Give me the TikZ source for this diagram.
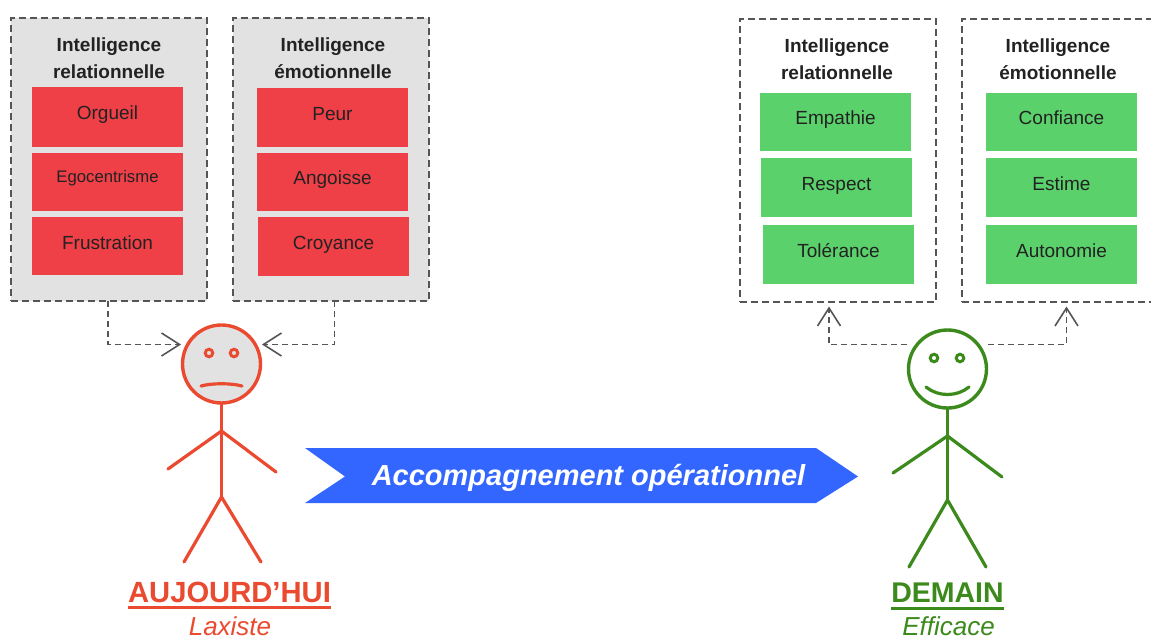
\documentclass[tikz,border=0pt]{standalone}
\usepackage{fontspec}
\setmainfont{Liberation Sans}
\usetikzlibrary{arrows.meta,calc}
\definecolor{panelgray}{HTML}{E2E2E2}
\definecolor{dashgray}{HTML}{555555}
\definecolor{badred}{HTML}{EF3F47}
\definecolor{goodgreen}{HTML}{5BD16C}
\definecolor{sadline}{HTML}{EA4A2F}
\definecolor{happyline}{HTML}{3C8A1C}
\definecolor{bannerblue}{HTML}{3366FF}
\definecolor{inktext}{HTML}{222222}
\tikzset{
  panel/.style={draw=dashgray,dash pattern=on 7pt off 4pt,line width=1.1pt,minimum width=196pt,minimum height=283pt,inner sep=0pt},
  panelbad/.style={panel,fill=panelgray},
  panelgood/.style={panel,fill=white},
  paneltitle/.style={font=\bfseries\fontsize{19}{27}\selectfont,align=center,inner sep=0pt,text=inktext},
  trait/.style={minimum width=151pt,inner sep=0pt,text=inktext,font=\fontsize{19}{22}\selectfont,text height=14pt,text depth=8pt},
  badtrait/.style={trait,fill=badred},
  goodtrait/.style={trait,fill=goodgreen},
  link/.style={draw=dashgray,line width=1.6pt,dash pattern=on 6pt off 4pt,-{Straight Barb[length=18pt,width=23pt,line width=1.6pt]}},
  sadstroke/.style={draw=sadline,line width=3.2pt,line cap=round},
  happystroke/.style={draw=happyline,line width=3.2pt,line cap=round},
  headnode/.style={circle,minimum size=78pt,inner sep=0pt,line width=3.4pt},
  eye/.style={circle,minimum size=7.5pt,inner sep=0pt,line width=3pt},
  stage/.style={font=\bfseries\fontsize{28.5}{32}\selectfont,inner sep=0pt},
  mood/.style={font=\itshape\fontsize{26}{30}\selectfont,inner sep=0pt},
}
\begin{document}
\begin{tikzpicture}[x=1pt,y=-1pt]
\useasboundingbox (0,0) rectangle (1151,639);
\clip (0,0) rectangle (1151,639);
\fill[white] (0,0) rectangle (1151,639);

% left panels
\node[panelbad] (p1) at (109,159.5) {};
\node[panelbad] (p2) at (331,159.5) {};
\node[paneltitle] (t1) at (109,58) {Intelligence\\relationnelle};
\node[paneltitle] (t2) at (333,58) {Intelligence\\émotionnelle};
\node[badtrait,minimum height=60pt] (r1) at (107.5,117) {Orgueil};
\node[badtrait,minimum height=58pt,font=\fontsize{16.7}{20}\selectfont,text height=12pt,text depth=10pt] (r2) at (107.5,182) {Egocentrisme};
\node[badtrait,minimum height=58pt] (r3) at (107.5,246) {Frustration};
\node[badtrait,minimum height=59pt] (r4) at (332.5,117.5) {Peur};
\node[badtrait,minimum height=58pt] (r5) at (332.5,182) {Angoisse};
\node[badtrait,minimum height=59pt] (r6) at (333.5,246.5) {Croyance};

% right panels
\node[panelgood] (p3) at (838,160.5) {};
\node[panelgood] (p4) at (1060,160.5) {};
\node[paneltitle] (t3) at (837,59) {Intelligence\\relationnelle};
\node[paneltitle] (t4) at (1058,59) {Intelligence\\émotionnelle};
\node[goodtrait,minimum height=58pt] (g1) at (835.5,122) {Empathie};
\node[goodtrait,minimum height=59pt] (g2) at (836.5,187.5) {Respect};
\node[goodtrait,minimum height=59pt] (g3) at (838.5,254.5) {Tolérance};
\node[goodtrait,minimum height=58pt] (g4) at (1061.5,122) {Confiance};
\node[goodtrait,minimum height=59pt] (g5) at (1061.5,187.5) {Estime};
\node[goodtrait,minimum height=59pt] (g6) at (1061.5,254.5) {Autonomie};

% sad figure
\node[headnode,draw=sadline,fill=panelgray] (sadhead) at (221.5,364) {};
\node[eye,draw=sadline] (se1) at (209,353) {};
\node[eye,draw=sadline] (se2) at (234,353) {};
\coordinate (sm1) at (201,386);
\coordinate (sm2) at (242,386);
\draw[sadstroke] (sm1) .. controls (212,383) and (231,383) .. (sm2);
\coordinate (ss) at (221.5,431);
\coordinate (sh) at (221.5,497);
\coordinate (sal) at (168,469);
\coordinate (sar) at (276,472);
\coordinate (sll) at (184,562);
\coordinate (slr) at (261,562);
\draw[sadstroke] (sadhead.south) -- (sh);
\draw[sadstroke] (sal) -- (ss) -- (sar);
\draw[sadstroke] (sll) -- (sh) -- (slr);

% happy figure
\node[headnode,draw=happyline,fill=white] (happyhead) at (947.5,369) {};
\node[eye,draw=happyline] (he1) at (934,358) {};
\node[eye,draw=happyline] (he2) at (960,358) {};
\coordinate (hm1) at (926,387);
\coordinate (hm2) at (969,387);
\draw[happystroke] (hm1) .. controls (938,397) and (957,397) .. (hm2);
\coordinate (hs) at (947.5,436);
\coordinate (hh) at (947.5,500);
\coordinate (hal) at (893,473);
\coordinate (har) at (1002,477);
\coordinate (hll) at (909,567);
\coordinate (hlr) at (986,567);
\draw[happystroke] (happyhead.south) -- (hh);
\draw[happystroke] (hal) -- (hs) -- (har);
\draw[happystroke] (hll) -- (hh) -- (hlr);

% connectors
\coordinate (a1) at (108,301);
\coordinate (a2) at (334.5,301);
\coordinate (e1) at (181,344.5);
\coordinate (e2) at (262,344.5);
\coordinate (a3) at (829,306.5);
\coordinate (a4) at (1066.5,306.5);
\coordinate (s3) at (907,344.5);
\coordinate (s4) at (988,344.5);
\draw[link] (a1) |- (e1);
\draw[link] (a2) |- (e2);
\draw[link] (s3) -| (a3);
\draw[link] (s4) -| (a4);

% banner
\coordinate (b1) at (305,448);
\coordinate (b2) at (816,448);
\coordinate (b3) at (858,476.5);
\coordinate (b4) at (816,503);
\coordinate (b5) at (305,503);
\coordinate (b6) at (345,476.5);
\fill[bannerblue] (b1) -- (b2) -- (b3) -- (b4) -- (b5) -- (b6) -- cycle;
\node[text=white,font=\bfseries\itshape\fontsize{29}{32}\selectfont,inner sep=0pt] (bt) at (588.5,478) {Accompagnement opérationnel};

% captions
\node[stage,text=sadline,anchor=base,font=\bfseries\fontsize{29.2}{32}\selectfont] (c1) at (229.5,602) {AUJOURD’HUI};
\draw[draw=sadline,line width=3pt] (c1.base west |- 0,607.5) -- (c1.base east |- 0,607.5);
\node[mood,text=sadline,anchor=base] (m1) at (230,635) {Laxiste};
\node[stage,text=happyline,anchor=base] (c2) at (947.5,602) {DEMAIN};
\draw[draw=happyline,line width=3pt] (c2.base west |- 0,608) -- (c2.base east |- 0,608);
\node[mood,text=happyline,anchor=base] (m2) at (948.5,635) {Efficace};
\end{tikzpicture}
\end{document}
